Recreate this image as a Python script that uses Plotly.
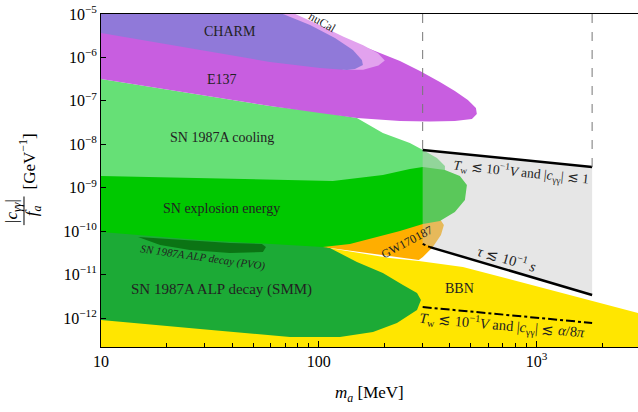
import math
import plotly.graph_objects as go

# ---- region boundaries (m_a in MeV, |c|/f_a in GeV^-1) ----
bbn_m = [10, 104.5, 212, 288, 459, 2925, 2925, 10]
bbn_c = [9.0e-13, 4.32e-11, 2.41e-11, 2.05e-11, 1.50e-11, 1.30e-12, 2.0e-13, 2.0e-13]

smm_m = [10, 28.5, 101.3, 112.5, 149.7, 197, 243.6, 282.6, 294.6, 282.6, 228.6, 177.4, 125, 73.8, 28.5, 10]
smm_c = [1.06e-10, 6.95e-11, 4.80e-11, 4.09e-11, 1.95e-11, 1.09e-11, 5.75e-12, 3.77e-12, 2.60e-12,
         1.53e-12, 7.67e-13, 4.76e-13, 3.66e-13, 3.66e-13, 5.58e-13, 9.0e-13]

gw_m = [104.5, 177.4, 300.7, 360, 375.5, 364, 334, 300.7, 288, 212, 149.7, 104.5]
gw_c = [4.80e-11, 7.73e-11, 1.63e-10, 1.91e-10, 1.39e-10, 8.15e-11, 4.32e-11, 2.54e-11, 2.17e-11,
        2.68e-11, 3.49e-11, 4.32e-11]

pvo_m = [14.8, 23.0, 39.1, 54.8, 57.2, 55.4, 39.1, 25.6, 18.7, 14.8]
pvo_c = [7.33e-11, 6.25e-11, 5.33e-11, 5.06e-11, 4.32e-11, 3.31e-11, 3.14e-11, 3.68e-11, 4.80e-11, 7.33e-11]

cool_m = [10, 59.7, 101.3, 149.7, 197, 262, 300.7, 349, 379.6, 379.6, 10]
cool_c = [3.18e-7, 7.62e-8, 5.54e-8, 4.03e-8, 1.82e-8, 1.07e-8, 7.40e-9, 4.83e-9, 3.16e-9, 1.16e-9, 1.16e-9]

expl_m = [10, 28.5, 82, 116, 197, 262, 300.7, 379.6, 444.7, 479, 469, 421.7, 360, 300.7, 236, 177.4,
          139, 104.5, 28.5, 10]
expl_c = [1.86e-9, 1.67e-9, 1.51e-9, 1.43e-9, 1.96e-9, 2.70e-9, 3.00e-9, 2.56e-9, 1.86e-9, 1.16e-9,
          5.21e-10, 2.76e-10, 1.71e-10, 1.46e-10, 1.01e-10, 6.95e-11, 5.06e-11, 4.32e-11, 6.25e-11, 9.55e-11]

e137_m = [10, 68.5, 101.3, 139, 171.8, 236, 291.6, 360, 421.7, 484, 527, 532, 505, 421.7, 324, 236,
          149.7, 101.3, 59.7, 10]
e137_c = [4.28e-6, 8.99e-6, 4.06e-6, 2.26e-6, 1.56e-6, 8.28e-7, 4.88e-7, 2.72e-7, 1.69e-7, 1.05e-7,
          6.86e-8, 4.98e-8, 3.82e-8, 3.44e-8, 3.35e-8, 3.44e-8, 4.03e-8, 5.25e-8, 7.62e-8, 3.18e-7]

nucal_m = [68.5, 78, 101.3, 130, 160, 187, 201, 188, 160, 130, 85]
nucal_c = [1.0e-5, 1.0e-5, 5.5e-6, 3.0e-6, 1.9e-6, 1.25e-6, 8.5e-7, 6.5e-7, 5.2e-7, 5.2e-7, 1.5e-6]

charm_m = [10, 68.5, 91.2, 118.7, 143.5, 157.8, 159.5, 146.6, 134.8, 101.3, 59.7, 28.5, 10]
charm_c = [1.0e-5, 1.0e-5, 5.58e-6, 2.80e-6, 1.48e-6, 8.73e-7, 6.70e-7, 5.42e-7, 5.14e-7, 5.71e-7,
           7.85e-7, 1.48e-6, 3.65e-6]

# projection region (grey band)
grey_m = [300, 1800, 1800, 300]
grey_c = [7.4e-9, 3.0e-9, 3.4e-12, 5.1e-11]

tw1_m = [300, 1800]
tw1_c = [7.4e-9, 3.0e-9]
tau_m = [324, 1800]
tau_c = [4.3e-11, 3.4e-12]
tau_dot_m = [300, 324]
tau_dot_c = [5.1e-11, 4.3e-11]
tw2_m = [300, 1800]
tw2_c = [1.79e-12, 7.7e-13]
vline_c = [1e-5, 7.4e-9, 3.0e-9]

x_tickvals = [10, 100, 1000]
x_ticktext = ["10", "100", "10<sup>3</sup>"]
x_minor = [20, 30, 40, 50, 60, 70, 80, 90, 200, 300, 400, 500, 600, 700, 800, 900, 2000]
y_tickvals = [1e-5, 1e-6, 1e-7, 1e-8, 1e-9, 1e-10, 1e-11, 1e-12]
y_ticktext = ["10<sup>−5</sup>", "10<sup>−6</sup>", "10<sup>−7</sup>", "10<sup>−8</sup>",
              "10<sup>−9</sup>", "10<sup>−10</sup>", "10<sup>−11</sup>", "10<sup>−12</sup>"]

FONT = "Liberation Serif"

fig = go.Figure()


def region(m, c, color):
    fig.add_trace(go.Scatter(x=m, y=c, mode="lines", fill="toself", fillcolor=color,
                             line=dict(width=0, color=color), hoverinfo="skip", showlegend=False))


region(bbn_m, bbn_c, "#ffe600")
region(smm_m, smm_c, "#1caa36")
region(gw_m, gw_c, "#ffae00")
region(pvo_m, pvo_c, "#0b7414")
region(cool_m, cool_c, "#66e076")
region(expl_m, expl_c, "#00c800")
region(e137_m, e137_c, "#c85ee0")
region(nucal_m, nucal_c, "#e2a2ee")
region(charm_m, charm_c, "#9079d9")
region(grey_m, grey_c, "rgba(200,200,200,0.45)")


def line(m, c, width=2.5, dash="solid", color="black"):
    fig.add_trace(go.Scatter(x=m, y=c, mode="lines", line=dict(width=width, color=color, dash=dash),
                             hoverinfo="skip", showlegend=False))


line(tw1_m, tw1_c)
line(tau_m, tau_c)
line(tau_dot_m, tau_dot_c, width=2, dash="dot")
line(tw2_m, tw2_c, width=2, dash="dashdot")
line([grey_m[0], grey_m[0]], [vline_c[0], vline_c[1]], width=1, dash="dash", color="#777777")
line([grey_m[1], grey_m[1]], [vline_c[0], vline_c[2]], width=1, dash="dash", color="#777777")

labels = [
    (39.1, 3.86e-6, "CHARM", 14, 0),
    (103.5, 6.55e-6, "nuCal", 12, 30),
    (35.9, 3.18e-7, "E137", 14, 0),
    (35.9, 1.47e-8, "SN 1987A cooling", 14, 0),
    (35.9, 3.24e-10, "SN explosion energy", 14, 0),
    (29.4, 2.54e-11, "<i>SN 1987A ALP decay (PVO)</i>", 11, 8),
    (35.9, 4.66e-12, "SN 1987A ALP decay (SMM)", 15, 0),
    (254, 5.6e-11, "GW170187", 12, -28),
    (445, 4.91e-12, "BBN", 14, 0),
    (847, 2.30e-9, "<i>T</i><sub>w</sub> ≲ 10<sup>−1</sup><i>V</i> and |<i>c</i><sub>γγ</sub>| ≲ 1", 13.5, 6),
    (731, 2.41e-11, "<i>τ</i> ≲ 10<sup>−1</sup> <i>s</i>", 14.5, 16),
    (693, 6.9e-13, "<i>T</i><sub>w</sub> ≲ 10<sup>−1</sup><i>V</i> and |<i>c</i><sub>γγ</sub>| ≲ <i>α</i>/8<i>π</i>", 14.5, 5),
]
for xm, yc, txt, size, ang in labels:
    fig.add_annotation(x=math.log10(xm), y=math.log10(yc), xref="x", yref="y", text=txt,
                       showarrow=False, textangle=ang, font=dict(family=FONT, size=size, color="#222"))

# axis titles
title_font = dict(family=FONT, size=17, color="black")
fig.add_annotation(xref="paper", yref="paper", x=0.50, y=-0.14, text="<i>m<sub>a</sub></i> [MeV]",
                   xanchor="center", yanchor="middle", showarrow=False, font=title_font)
fig.add_annotation(xref="paper", yref="paper", x=-0.137, y=0.5586, text="[GeV<sup>−1</sup>]",
                   xanchor="center", yanchor="middle", textangle=-90, showarrow=False, font=title_font)
fig.add_annotation(xref="paper", yref="paper", x=-0.163, y=0.41, text="|<i>c</i><sub><i>γγ</i></sub>|",
                   xanchor="center", yanchor="middle", textangle=-90, showarrow=False, font=title_font)
fig.add_annotation(xref="paper", yref="paper", x=-0.125, y=0.41, text="<i>f</i><sub><i>a</i></sub>",
                   xanchor="center", yanchor="middle", textangle=-90, showarrow=False, font=title_font)
fig.add_shape(type="line", xref="paper", yref="paper", x0=-0.1434, x1=-0.1434, y0=0.366, y1=0.452,
              line=dict(color="black", width=1))

fig.update_xaxes(type="log", range=[1, 3.466], tickvals=x_tickvals, ticktext=x_ticktext,
                 ticks="inside", ticklen=6, tickcolor="black", showline=True, linecolor="black",
                 linewidth=1, mirror=True, showgrid=False, zeroline=False, automargin=False,
                 tickfont=dict(family=FONT, size=16, color="black"),
                 minor=dict(tickvals=x_minor, ticks="inside", ticklen=4, tickcolor="black", showgrid=False))
fig.update_yaxes(type="log", range=[-12.667, -5], tickvals=y_tickvals, ticktext=y_ticktext,
                 ticks="inside", ticklen=5, tickcolor="black", showline=True, linecolor="black",
                 linewidth=1, showgrid=False, zeroline=False, automargin=False,
                 tickfont=dict(family=FONT, size=16, color="black"))
fig.update_layout(width=638, height=412, margin=dict(l=101, r=0, t=14, b=65, autoexpand=False),
                  plot_bgcolor="white", paper_bgcolor="white", showlegend=False)

fig.write_html("out.html", config={"displayModeBar": False},
               post_script="document.body.style.margin='0';")
